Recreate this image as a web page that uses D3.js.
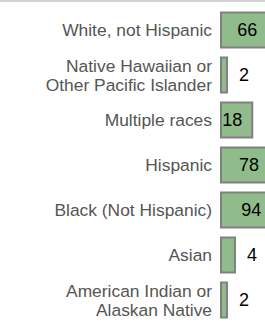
<!DOCTYPE html>
<html>
<head>
<meta charset="utf-8">
<script src="https://cdn.jsdelivr.net/npm/d3@7"></script>
<style>
  body { margin: 0; background: #fff; }
  svg { display: block; }
</style>
</head>
<body>
<div id="chart"></div>
<script>
// rows top to bottom, label lines split with \n
const categories = [
    'White, not Hispanic',
    'Native Hawaiian or\nOther Pacific Islander',
    'Multiple races',
    'Hispanic',
    'Black (Not Hispanic)',
    'Asian',
    'American Indian or\nAlaskan Native'
];
const values = [66, 2, 18, 78, 94, 4, 2];

const width = 265;
const height = 328;

const svg = d3.select('#chart')
    .append('svg')
    .attr('width', width)
    .attr('height', height);

// light rule along the top edge
svg.append('rect')
    .attr('x', 0).attr('y', 0)
    .attr('width', width).attr('height', 2)
    .attr('fill', '#d3d3d3');

// bars grow from value 1 on a log axis
const x = d3.scaleLog()
    .domain([1, 100])
    .range([220, 273]);

const y = d3.scaleBand()
    .domain(categories)
    .range([7.5, 322.5])
    .paddingInner(0.178)
    .paddingOuter(0.089);

const rows = svg.selectAll('.row')
    .data(categories.map((c, i) => ({ cat: c, value: values[i] })))
    .enter()
    .append('g')
    .attr('class', 'row')
    .attr('transform', d => `translate(0,${y(d.cat)})`);

rows.append('rect')
    .attr('x', x(1) + 1)
    .attr('y', 1)
    .attr('width', d => x(d.value) - x(1) - 2)
    .attr('height', y.bandwidth() - 2)
    .attr('fill', '#8fbc8a')
    .attr('stroke', '#808080')
    .attr('stroke-width', 2);

// category labels, right aligned next to the bars
const lineH = 19;
rows.append('text')
    .attr('text-anchor', 'end')
    .attr('font-family', '"Liberation Sans", Arial, sans-serif')
    .attr('font-size', '17.4px')
    .attr('fill', '#555')
    .each(function (d) {
        const lines = d.cat.split('\n');
        const t = d3.select(this);
        lines.forEach((ln, i) => {
            t.append('tspan')
                .attr('x', 212)
                .attr('y', y.bandwidth() / 2 + (i - (lines.length - 1) / 2) * lineH)
                .attr('dy', '0.35em')
                .text(ln);
        });
    });

// value labels: inside the bar end when it fits, else just after it
rows.append('text')
    .attr('font-family', '"Liberation Sans", Arial, sans-serif')
    .attr('font-size', '18px')
    .attr('fill', '#000')
    .attr('y', y.bandwidth() / 2)
    .attr('dy', '0.36em')
    .text(d => d.value)
    .each(function (d) {
        const t = d3.select(this);
        const tw = this.getComputedTextLength();
        const barW = x(d.value) - x(1);
        if (barW >= tw + 12) {
            t.attr('text-anchor', 'end').attr('x', x(d.value) - 11);
        } else {
            t.attr('text-anchor', 'start').attr('x', x(d.value) + 11);
        }
    });
</script>
</body>
</html>
